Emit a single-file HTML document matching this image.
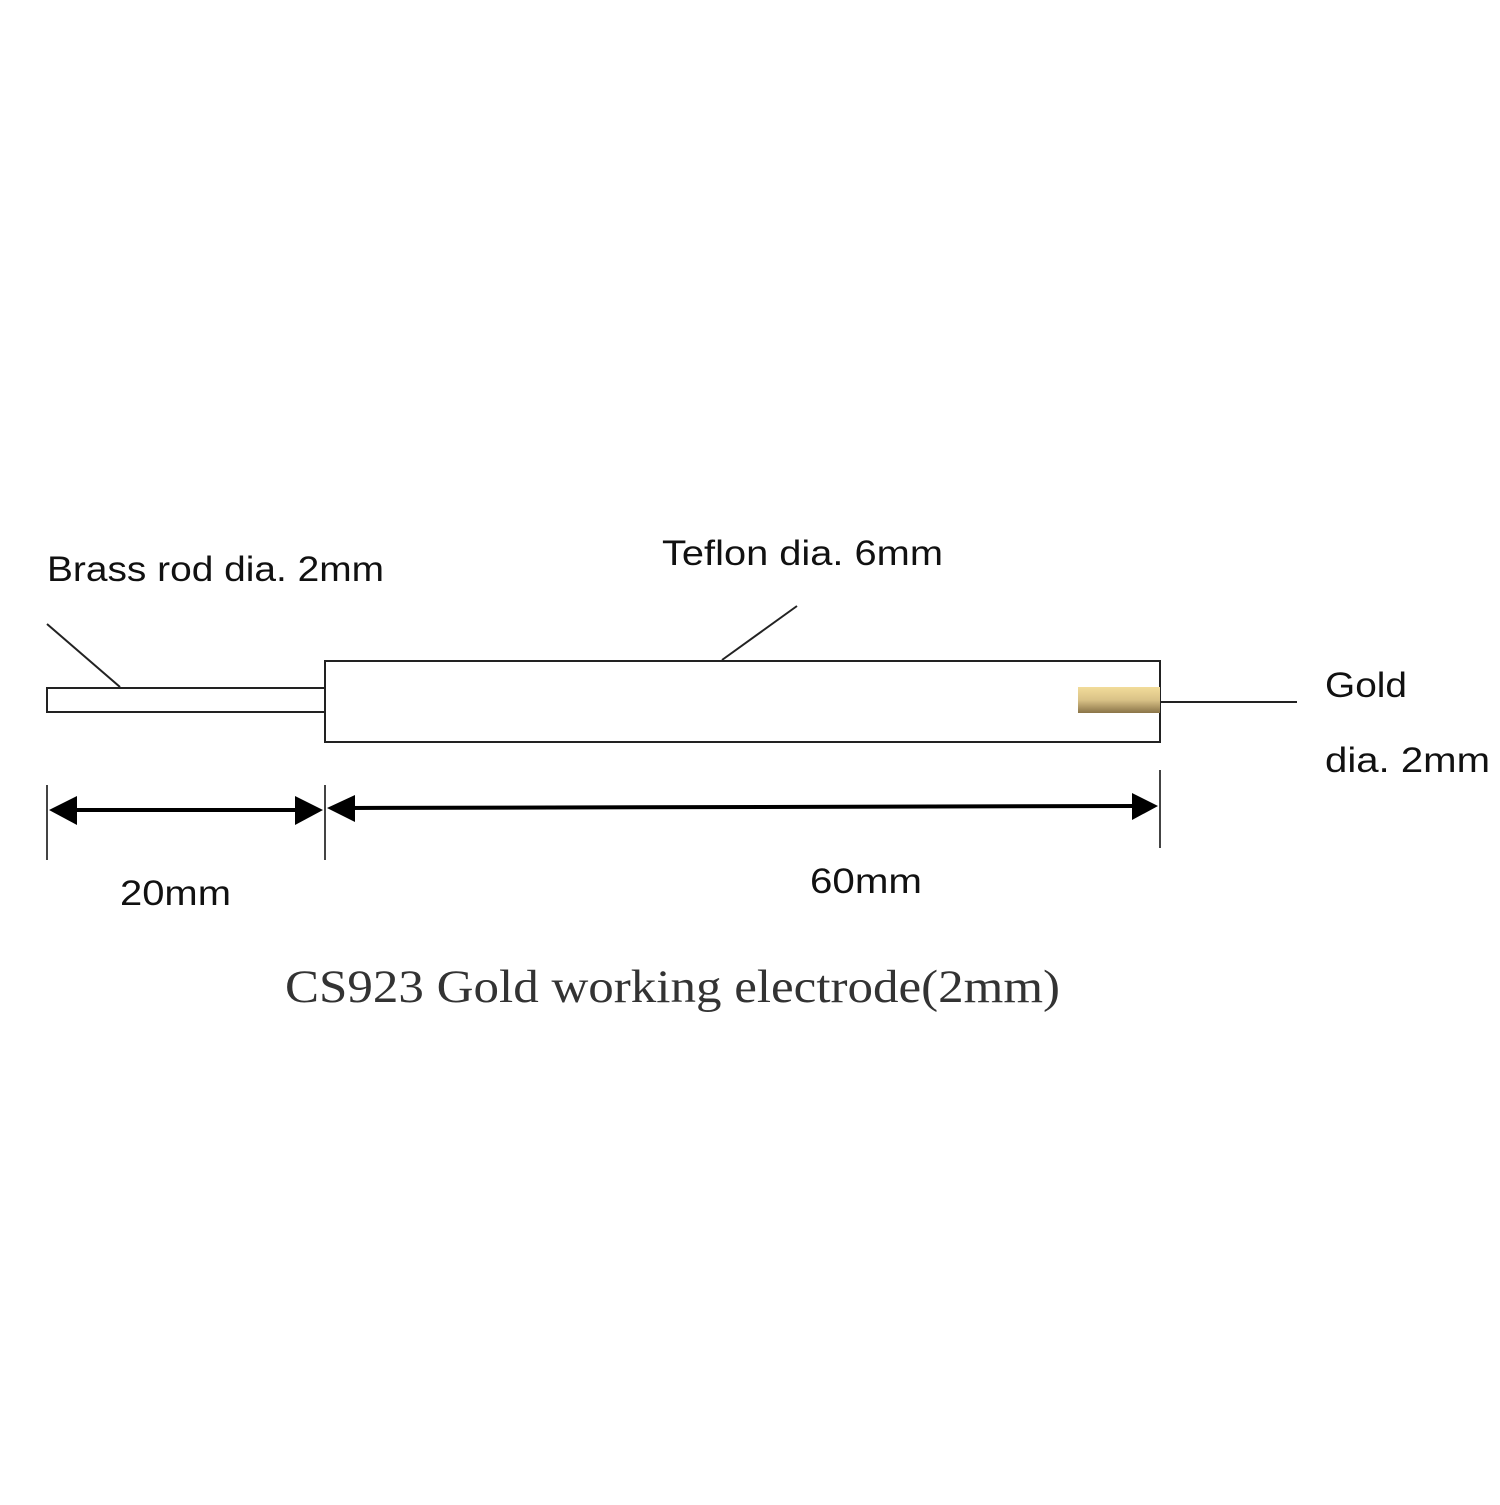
<!DOCTYPE html>
<html><head><meta charset="utf-8"><style>html,body{margin:0;padding:0;background:#fff}</style></head>
<body>
<svg width="1500" height="1500" viewBox="0 0 1500 1500" xmlns="http://www.w3.org/2000/svg">
<defs>
<linearGradient id="g" x1="0" y1="0" x2="0" y2="1">
<stop offset="0" stop-color="#f2dc9a"/><stop offset="0.5" stop-color="#d9c287"/><stop offset="1" stop-color="#8a7448"/>
</linearGradient>
</defs>
<rect width="1500" height="1500" fill="#fff"/>
<g font-family="Liberation Sans, sans-serif" font-size="35" fill="#111">
<text x="47" y="581" textLength="337" lengthAdjust="spacingAndGlyphs">Brass rod dia. 2mm</text>
<text x="662" y="565" textLength="281" lengthAdjust="spacingAndGlyphs">Teflon dia. 6mm</text>
<text x="1325" y="697" textLength="82" lengthAdjust="spacingAndGlyphs">Gold</text>
<text x="1325" y="772" textLength="165" lengthAdjust="spacingAndGlyphs">dia. 2mm</text>
<text x="120" y="905" textLength="111" lengthAdjust="spacingAndGlyphs">20mm</text>
<text x="810" y="893" textLength="112" lengthAdjust="spacingAndGlyphs">60mm</text>
</g>
<text x="285" y="1002" font-family="Liberation Serif, serif" font-size="47" fill="#333" textLength="775" lengthAdjust="spacingAndGlyphs">CS923 Gold working electrode(2mm)</text>
<g stroke="#222" fill="none" stroke-width="2">
<rect x="47" y="688" width="278" height="24"/>
<rect x="325" y="661" width="835" height="81"/>
<line x1="47" y1="624" x2="120" y2="687"/>
<line x1="797" y1="606" x2="722" y2="660"/>
<line x1="1160" y1="702" x2="1297" y2="702"/>
</g>
<rect x="1078" y="687" width="82" height="26" fill="url(#g)"/>
<g stroke="#444" stroke-width="2">
<line x1="47" y1="785" x2="47" y2="860"/>
<line x1="325" y1="785" x2="325" y2="860"/>
<line x1="1160" y1="770" x2="1160" y2="848"/>
</g>
<g stroke="#000" stroke-width="4">
<line x1="70" y1="810" x2="302" y2="810"/>
<line x1="348" y1="808" x2="1137" y2="806"/>
</g>
<g fill="#000">
<polygon points="49,810 77,796 77,825"/>
<polygon points="323,810 295,796 295,825"/>
<polygon points="327,808 355,795 355,822"/>
<polygon points="1158,806 1132,793 1132,820"/>
</g>
</svg>
</body></html>
